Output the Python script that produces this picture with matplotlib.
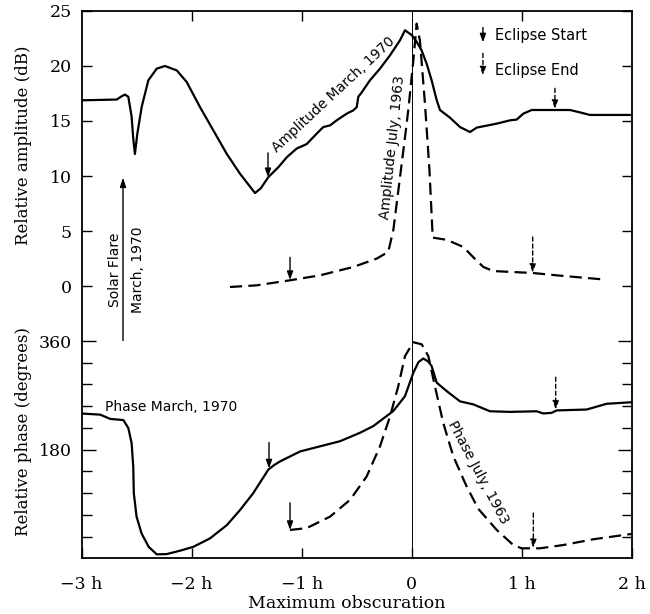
import matplotlib
matplotlib.use("Agg")
import matplotlib.pyplot as plt
import numpy as np

# time relative to maximum obscuration (hours)
amp_mar_t = [-3.0, -2.68, -2.635, -2.605, -2.575, -2.545, -2.53, -2.515, -2.493, -2.453,
             -2.393, -2.317, -2.242, -2.135, -2.045, -1.924, -1.803, -1.68, -1.56, -1.49,
             -1.424, -1.37, -1.303, -1.212, -1.136, -1.045, -0.955, -0.864, -0.804, -0.743,
             -0.682, -0.591, -0.531, -0.5, -0.486, -0.455, -0.38, -0.289, -0.198, -0.107,
             -0.062, 0.0, 0.044, 0.09, 0.135, 0.18, 0.226, 0.256, 0.347, 0.438, 0.529,
             0.59, 0.771, 0.892, 0.953, 1.013, 1.089, 1.437, 1.52, 1.618, 1.98]
amp_mar_db = [16.88, 16.95, 17.25, 17.4, 17.2, 15.4, 13.4, 12.0, 13.85, 16.3,
              18.7, 19.76, 20.0, 19.6, 18.55, 16.27, 14.15, 12.0, 10.2, 9.3,
              8.45, 8.9, 9.9, 10.8, 11.7, 12.5, 12.9, 13.85, 14.45, 14.6,
              15.06, 15.67, 15.97, 16.27, 17.2, 17.6, 18.7, 19.76, 20.97, 22.34,
              23.25, 22.8, 22.2, 21.4, 20.2, 18.7, 16.9, 16.0, 15.3, 14.45, 14.0,
              14.4, 14.76, 15.06, 15.13, 15.67, 16.0, 16.0, 15.8, 15.55, 15.55]

amp_jul_t = [-1.652, -1.41, -1.106, -0.834, -0.531, -0.319, -0.214, -0.168, -0.107, -0.062,
             -0.032, 0.014, 0.044, 0.074, 0.12, 0.16, 0.19, 0.317, 0.468, 0.56, 0.65,
             0.74, 1.104, 1.316, 1.725]
amp_jul_db = [-0.09, 0.06, 0.52, 0.97, 1.73, 2.49, 3.1, 5.06, 9.9, 13.5,
              16.0, 20.5, 23.85, 22.3, 16.5, 10.6, 4.4, 4.2, 3.55, 2.6, 1.73,
              1.36, 1.18, 0.97, 0.61]

ph_mar_t = [-3.01, -2.83, -2.74, -2.62, -2.575, -2.545, -2.53, -2.525, -2.5, -2.455,
            -2.39, -2.317, -2.226, -2.105, -1.985, -1.833, -1.68, -1.56, -1.44, -1.303,
            -1.25, -1.197, -1.015, -0.834, -0.652, -0.47, -0.35, -0.168, -0.062, 0.014,
            0.06, 0.104, 0.15, 0.18, 0.226, 0.317, 0.438, 0.559, 0.71, 0.892, 1.134,
            1.194, 1.27, 1.316, 1.588, 1.77, 1.997]
ph_mar_deg = [240, 238, 231, 229, 216, 191, 152, 108, 69, 41.5,
              19, 6.6, 7, 12.6, 19, 33, 55, 80, 108, 147,
              154.5, 160.5, 177, 185.5, 194, 208, 219, 244, 268.6, 307.5,
              325, 331, 326, 318.5, 291, 277, 260, 255, 243.6, 242.6, 243.6,
              240, 241, 245, 246.5, 256, 258.6]

ph_jul_t = [-1.106, -0.955, -0.743, -0.56, -0.41, -0.289, -0.198, -0.123, -0.062, 0.014,
            0.09, 0.15, 0.21, 0.286, 0.377, 0.498, 0.604, 0.771, 0.922, 0.998, 1.165,
            1.376, 1.65, 1.997]
ph_jul_deg = [47, 50, 69, 97, 135.6, 185.5, 235, 285, 335, 358,
              354.5, 335, 285, 224, 169, 119, 82, 47, 22, 16.6, 16.6,
              22, 31.6, 40.4]

# eclipse start / end markers: (time, value at arrow tail, value at arrow head)
amp_start = [(-1.306, 12.1, 9.9), (-1.106, 2.6, 0.55)]
amp_end = [(1.30, 17.97, 16.1), (1.098, 4.45, 1.2)]
ph_start = [(-1.297, 192, 149), (-1.106, 92, 47)]
ph_end = [(1.307, 300, 246.5), (1.104, 75, 17)]

x_ticks = [-3, -2, -1, 0, 1, 2]
x_labels = ["\u22123 h", "\u22122 h", "\u22121 h", "0", "1 h", "2 h"]

SERIF = "DejaVu Serif"
SANS = "DejaVu Sans"
LW = 1.6
DASH = (0, (5.5, 2.8))

fig = plt.figure(figsize=(6.5, 6.14), dpi=100)
ax1 = fig.add_axes([0.1254, 0.4446, 0.8469, 0.5375])
ax2 = fig.add_axes([0.1254, 0.0907, 0.8469, 0.3539])

for ax in (ax1, ax2):
    ax.set_xlim(-3, 2)
    ax.axvline(0, color="black", lw=0.7)
    for s in ax.spines.values():
        s.set_linewidth(1.3)
    ax.tick_params(direction="in", width=1.0, labelsize=12.5, pad=7)

ax1.spines["bottom"].set_visible(False)
ax2.spines["top"].set_visible(False)

# amplitude panel
ax1.plot(amp_mar_t, amp_mar_db, color="black", lw=LW, solid_joinstyle="round")
ax1.plot(amp_jul_t, amp_jul_db, color="black", lw=LW, linestyle=DASH)
ax1.set_ylim(-5, 25)
ax1.set_yticks([0, 5, 10, 15, 20, 25])
ax1.set_yticklabels(["0", "5", "10", "15", "20", "25"], family=SERIF, fontsize=12.5)
ax1.tick_params(axis="y", left=True, right=True, length=7)
ax1.set_xticks([-2, -1, 1])
ax1.tick_params(axis="x", top=True, bottom=False, labelbottom=False, length=7)

# phase panel
ax2.plot(ph_mar_t, ph_mar_deg, color="black", lw=LW, solid_joinstyle="round")
ax2.plot(ph_jul_t, ph_jul_deg, color="black", lw=LW, linestyle=DASH)
ax2.set_ylim(0, 360)
ax2.set_yticks([180, 360])
ax2.set_yticklabels(["180", "360"], family=SERIF, fontsize=12.5)
ax2.set_yticks(np.arange(36, 360, 36), minor=True)
ax2.tick_params(axis="y", which="major", left=True, right=True, length=10)
ax2.tick_params(axis="y", which="minor", left=True, right=True, direction="in", length=7, width=1.0)
ax2.set_xticks(x_ticks)
ax2.set_xticklabels(x_labels, family=SERIF, fontsize=12.5)
ax2.tick_params(axis="x", top=False, length=7, pad=13)


def mark(ax, items, dashed):
    for t, y0, y1 in items:
        props = dict(arrowstyle="-|>,head_length=0.5,head_width=0.18", color="black", lw=1.0,
                     shrinkA=0, shrinkB=0)
        if dashed:
            props["linestyle"] = (0, (3, 2))
        ax.annotate("", xy=(t, y1), xytext=(t, y0), arrowprops=props, annotation_clip=False)


mark(ax1, amp_start, False)
mark(ax1, amp_end, True)
mark(ax2, ph_start, False)
mark(ax2, ph_end, True)

# legend in top right
mark(ax1, [(0.646, 23.5, 22.15)], False)
mark(ax1, [(0.646, 21.15, 19.15)], True)
ax1.text(0.756, 22.8, "Eclipse Start", family=SANS, fontsize=10.5, va="center", ha="left")
ax1.text(0.756, 19.6, "Eclipse End", family=SANS, fontsize=10.5, va="center", ha="left")

# solar flare marker
ax1.annotate("", xy=(-2.623, 9.86), xytext=(-2.623, -6.24), annotation_clip=False,
             arrowprops=dict(arrowstyle="<|-|>,head_length=0.55,head_width=0.18",
                             color="black", lw=1.0, shrinkA=0, shrinkB=0))
ax1.text(-2.696, 1.45, "Solar Flare", family=SANS, fontsize=10, rotation=90,
         ha="center", va="center")
ax1.text(-2.491, 1.45, "March, 1970", family=SANS, fontsize=10, rotation=90,
         ha="center", va="center")

# curve labels
ax1.text(-0.707, 17.4, "Amplitude March, 1970", family=SANS, fontsize=10, rotation=43,
         ha="center", va="center")
ax1.text(-0.171, 12.6, "Amplitude July, 1963", family=SANS, fontsize=10, rotation=84,
         ha="center", va="center")
ax2.text(-2.787, 250, "Phase March, 1970", family=SANS, fontsize=10, ha="left", va="center")
ax2.text(0.6, 142, "Phase July, 1963", family=SANS, fontsize=10, rotation=-62,
         ha="center", va="center")

fig.text(24 / 650, 1 - 145 / 614, "Relative amplitude (dB)", family=SERIF, fontsize=12,
         rotation=90, ha="center", va="center")
fig.text(24 / 650, 1 - 432 / 614, "Relative phase (degrees)", family=SERIF, fontsize=12,
         rotation=90, ha="center", va="center")
fig.text(347 / 650, 1 - 603 / 614, "Maximum obscuration", family=SERIF, fontsize=12.5,
         ha="center", va="center")

fig.savefig("out.png", dpi=100)
